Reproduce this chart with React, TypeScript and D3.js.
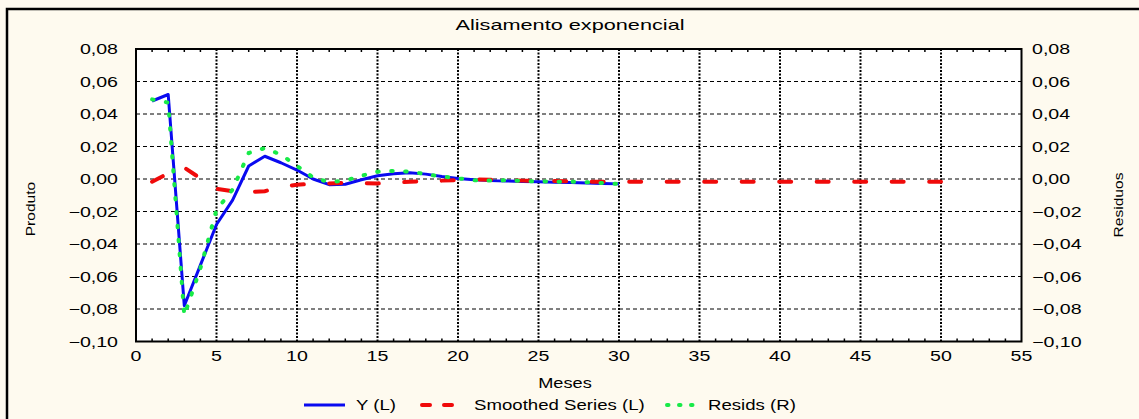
import React from "react";
import * as d3 from "d3";

// Alisamento exponencial
const yL = [
  0.048, 0.052, -0.078, -0.053, -0.028, -0.013, 0.008, 0.014, 0.01, 0.0055,
  0.0, -0.0035, -0.0032, -0.0005, 0.002, 0.0033, 0.0038, 0.003, 0.0015, 0.0003,
  -0.0005, -0.001, -0.0012, -0.0015, -0.0017, -0.002, -0.0022, -0.0025, -0.0027, -0.003,
];
const smoothed = [
  -0.0017, 0.0035, 0.007, 0.0004, -0.006, -0.0075, -0.008, -0.0075, -0.005, -0.0035,
  -0.003, -0.0027, -0.0024, -0.0026, -0.0027, -0.0022, -0.0017, -0.0012, -0.001, -0.0006,
  -0.0003, -0.0004, -0.0007, -0.001, -0.0011, -0.0012, -0.0014, -0.0016, -0.0017, -0.0017,
  -0.0017, -0.0017, -0.0017, -0.0017, -0.0017, -0.0017, -0.0017, -0.0017, -0.0017, -0.0017,
  -0.0017, -0.0017, -0.0017, -0.0017, -0.0017, -0.0017, -0.0017, -0.0017, -0.0017, -0.0017,
];
const resids = [
  0.049, 0.047, -0.084, -0.055, -0.019, -0.0065, 0.016, 0.019, 0.015, 0.008,
  0.001, -0.002, -0.001, 0.002, 0.0045, 0.005, 0.0045, 0.003, 0.0015, 0.0004,
  -0.0008, -0.001, -0.0008, -0.0012, -0.0016, -0.0016, -0.0017, -0.002, -0.0025, -0.003,
];
const xTicks = [0, 5, 10, 15, 20, 25, 30, 35, 40, 45, 50, 55];
const yTicks = [-0.1, -0.08, -0.06, -0.04, -0.02, 0, 0.02, 0.04, 0.06, 0.08];

const W = 1139;
const H = 419;
const plot = { left: 136, right: 1021.5, top: 49, bottom: 341.5 };
const FONT = "'Liberation Sans', Arial, sans-serif";
const BLUE = "#0a0af0";
const RED = "#f00a0a";
const GREEN = "#18ea48";

const fmt = (v: number) => d3.format(".2f")(v).replace(".", ",");

function Txt(props: {
  x: number; y: number; sx?: number; size?: number; anchor?: string; rot?: number; children: any;
}) {
  const { x, y, sx = 1.4, size = 14, anchor = "start", rot = 0 } = props;
  return (
    <text
      transform={`translate(${x},${y}) rotate(${rot}) scale(${sx},1)`}
      textAnchor={anchor}
      fontFamily={FONT}
      fontSize={size}
      fill="#000"
    >
      {props.children}
    </text>
  );
}

export default function App() {
  const x = d3.scaleLinear().domain([0, 55]).range([plot.left, plot.right]);
  const y = d3.scaleLinear().domain([-0.1, 0.08]).range([plot.bottom, plot.top]);
  const yR = d3.scaleLinear().domain([-0.1, 0.08]).range([plot.bottom, plot.top]);

  const lineL = d3.line<number>().x((_, i) => x(i + 1)).y((d) => y(d));
  const lineR = d3.line<number>().x((_, i) => x(i + 1)).y((d) => yR(d));

  const minor = d3.range(1, 55).filter((v) => v % 5 !== 0);

  return (
    <div style={{ position: "absolute", left: 0, top: 0 }}>
      <svg width={W} height={H} style={{ display: "block" }}>
        <rect x={0} y={0} width={W} height={H} fill="#fefaef" />
        <path d={`M7,${H + 5} V9 H${W + 5}`} fill="none" stroke="#000" strokeWidth={2.5} />

        <Txt x={570} y={30} sx={1.55} anchor="middle">Alisamento exponencial</Txt>

        <rect
          x={plot.left}
          y={plot.top}
          width={plot.right - plot.left}
          height={plot.bottom - plot.top}
          fill="#fff"
        />

        {/* grid */}
        {yTicks.slice(1, -1).map((t) => (
          <line key={"gy" + t} x1={plot.left} x2={plot.right} y1={y(t)} y2={y(t)}
            stroke="#000" strokeWidth={1} strokeDasharray="4 3" />
        ))}
        {xTicks.slice(1, -1).map((t) => (
          <line key={"gx" + t} x1={x(t)} x2={x(t)} y1={plot.top} y2={plot.bottom}
            stroke="#000" strokeWidth={2} strokeDasharray="2 1.5" />
        ))}
        {minor.map((t) => (
          <g key={"m" + t}>
            <line x1={x(t)} x2={x(t)} y1={plot.bottom} y2={plot.bottom - 3} stroke="#000" strokeWidth={1.5} />
            <line x1={x(t)} x2={x(t)} y1={plot.top} y2={plot.top + 3} stroke="#000" strokeWidth={1.5} />
          </g>
        ))}

        {/* series */}
        <path d={lineL(yL) || ""} fill="none" stroke={BLUE} strokeWidth={3} strokeLinejoin="round" />
        <path d={lineL(smoothed) || ""} fill="none" stroke={RED} strokeWidth={4}
          strokeDasharray="12 25.5" strokeLinecap="round" />
        <path d={lineR(resids) || ""} fill="none" stroke={GREEN} strokeWidth={4}
          strokeDasharray="1.5 12.5" strokeLinecap="round" />

        <rect
          x={plot.left}
          y={plot.top}
          width={plot.right - plot.left}
          height={plot.bottom - plot.top}
          fill="none"
          stroke="#000"
          strokeWidth={2}
        />

        {/* axes labels */}
        {yTicks.map((t) => (
          <g key={"yl" + t}>
            <Txt x={118} y={y(t) + 5} anchor="end">{fmt(t)}</Txt>
            <Txt x={1032} y={yR(t) + 5}>{fmt(t)}</Txt>
          </g>
        ))}
        {xTicks.map((t) => (
          <Txt key={"xl" + t} x={x(t)} y={361} anchor="middle">{String(t)}</Txt>
        ))}

        <Txt x={565} y={388} sx={1.3} anchor="middle">Meses</Txt>
        <Txt x={35} y={209} sx={1.3} size={12} rot={-90} anchor="middle">Produto</Txt>
        <Txt x={1123} y={205} sx={1.3} size={12} rot={-90} anchor="middle">Residuos</Txt>

        {/* legend */}
        <line x1={304} x2={345} y1={405} y2={405} stroke={BLUE} strokeWidth={3} />
        <Txt x={356} y={410} sx={1.33}>Y (L)</Txt>
        <line x1={422} x2={452} y1={405} y2={405} stroke={RED} strokeWidth={4}
          strokeDasharray="8 14" strokeLinecap="round" />
        <Txt x={474} y={410} sx={1.33}>Smoothed Series (L)</Txt>
        <line x1={667} x2={697} y1={405} y2={405} stroke={GREEN} strokeWidth={4}
          strokeDasharray="1.5 10.5" strokeLinecap="round" />
        <Txt x={708} y={410} sx={1.33}>Resids (R)</Txt>
      </svg>
    </div>
  );
}
